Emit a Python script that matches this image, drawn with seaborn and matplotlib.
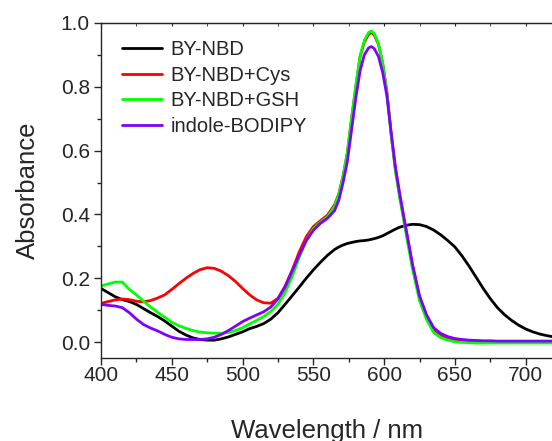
import numpy as np
import pandas as pd
import seaborn as sns
import matplotlib.pyplot as plt
from matplotlib.ticker import MultipleLocator

# wavelength grid (nm)
wavelength = [400, 405, 410, 415, 420, 425, 430, 435, 440, 445, 450, 455, 460, 465,
              470, 475, 480, 485, 490, 495, 500, 505, 510, 515, 520, 525, 530, 535,
              540, 545, 550, 555, 560, 565, 568, 571, 574, 577, 580, 583, 586, 589,
              591, 593, 596, 599, 602, 605, 608, 611, 614, 617, 620, 625, 630, 635,
              640, 645, 650, 655, 660, 665, 670, 675, 680, 685, 690, 695, 700, 705,
              710, 715, 720]

by_nbd = [0.168, 0.155, 0.142, 0.133, 0.127, 0.118, 0.105, 0.092, 0.080, 0.066,
          0.050, 0.034, 0.022, 0.013, 0.008, 0.006, 0.006, 0.010, 0.016, 0.024,
          0.032, 0.042, 0.049, 0.058, 0.072, 0.092, 0.118, 0.145, 0.172, 0.200,
          0.226, 0.250, 0.272, 0.290, 0.298, 0.304, 0.309, 0.312, 0.315, 0.317,
          0.318, 0.320, 0.322, 0.324, 0.328, 0.333, 0.340, 0.347, 0.354, 0.360,
          0.364, 0.367, 0.369, 0.368, 0.362, 0.351, 0.336, 0.318, 0.298, 0.270,
          0.238, 0.203, 0.168, 0.136, 0.108, 0.086, 0.068, 0.053, 0.041, 0.032,
          0.025, 0.020, 0.016]

by_nbd_cys = [0.121, 0.127, 0.132, 0.135, 0.133, 0.128, 0.126, 0.130, 0.138, 0.148,
              0.165, 0.183, 0.200, 0.215, 0.227, 0.233, 0.231, 0.222, 0.208, 0.190,
              0.168, 0.148, 0.132, 0.123, 0.122, 0.137, 0.175, 0.225, 0.282, 0.330,
              0.362, 0.380, 0.398, 0.430, 0.465, 0.520, 0.592, 0.700, 0.800, 0.894,
              0.940, 0.964, 0.970, 0.963, 0.933, 0.873, 0.783, 0.652, 0.540, 0.459,
              0.385, 0.312, 0.239, 0.140, 0.079, 0.036, 0.020, 0.012, 0.007, 0.004,
              0.003, 0.002, 0.002, 0.001, 0.001, 0.001, 0.001, 0.001, 0.001, 0.001,
              0.001, 0.001, 0.001]

by_nbd_gsh = [0.176, 0.182, 0.188, 0.188, 0.165, 0.148, 0.128, 0.110, 0.093, 0.078,
              0.062, 0.051, 0.043, 0.036, 0.031, 0.029, 0.028, 0.027, 0.030, 0.036,
              0.045, 0.057, 0.068, 0.080, 0.096, 0.118, 0.155, 0.205, 0.265, 0.318,
              0.355, 0.375, 0.393, 0.425, 0.463, 0.520, 0.594, 0.702, 0.803, 0.897,
              0.945, 0.970, 0.975, 0.967, 0.935, 0.872, 0.780, 0.648, 0.535, 0.453,
              0.378, 0.303, 0.230, 0.130, 0.070, 0.030, 0.014, 0.006, 0.001, -0.001,
              -0.002, -0.003, -0.003, -0.003, -0.003, -0.003, -0.003, -0.003, -0.003,
              -0.003, -0.003, -0.003, -0.003]

indole_bodipy = [0.118, 0.115, 0.113, 0.108, 0.092, 0.072, 0.055, 0.044, 0.035, 0.024,
                 0.015, 0.010, 0.008, 0.008, 0.008, 0.010, 0.015, 0.024, 0.036, 0.050,
                 0.064, 0.075, 0.085, 0.095, 0.110, 0.135, 0.172, 0.222, 0.272, 0.318,
                 0.350, 0.372, 0.388, 0.412, 0.445, 0.500, 0.565, 0.665, 0.765, 0.850,
                 0.900, 0.922, 0.926, 0.920, 0.895, 0.845, 0.770, 0.655, 0.548, 0.465,
                 0.390, 0.318, 0.245, 0.145, 0.085, 0.045, 0.027, 0.017, 0.011, 0.008,
                 0.006, 0.005, 0.004, 0.004, 0.003, 0.003, 0.003, 0.003, 0.003, 0.003,
                 0.003, 0.003, 0.003]

labels = ["BY-NBD", "BY-NBD+Cys", "BY-NBD+GSH", "indole-BODIPY"]
colors = ["#000000", "#ff0000", "#00ff00", "#8000ff"]

frames = []
for name, vals in zip(labels, [by_nbd, by_nbd_cys, by_nbd_gsh, indole_bodipy]):
    frames.append(pd.DataFrame({"Wavelength": wavelength, "Absorbance": vals, "Sample": name}))
df = pd.concat(frames, ignore_index=True)

sns.set_style("ticks")
plt.rcParams['font.family'] = ['Liberation Sans', 'DejaVu Sans']

fig = plt.figure(figsize=(5.52, 4.41), dpi=100)
ax = fig.add_axes([101 / 552, 1 - 358 / 441, 453 / 552, 335 / 441])

sns.lineplot(data=df, x="Wavelength", y="Absorbance", hue="Sample",
             palette=dict(zip(labels, colors)), linewidth=2.0, ax=ax, sort=False)

ax.set_xlim(400, 720)
ax.set_ylim(-0.05, 1.0)
ax.xaxis.set_major_locator(MultipleLocator(50))
ax.xaxis.set_minor_locator(MultipleLocator(25))
ax.yaxis.set_major_locator(MultipleLocator(0.2))
ax.yaxis.set_minor_locator(MultipleLocator(0.1))
ax.yaxis.set_major_formatter(plt.FormatStrFormatter('%.1f'))
ax.tick_params(which='major', direction='out', length=5, width=1, labelsize=15)
ax.tick_params(which='minor', direction='out', length=3, width=1)
ax.tick_params(axis='x', pad=1)
ax.tick_params(axis='y', pad=3)
for s in ax.spines.values():
    s.set_linewidth(1.0)

top = ax.secondary_xaxis('top')
top.xaxis.set_major_locator(MultipleLocator(50))
top.xaxis.set_minor_locator(MultipleLocator(25))
top.tick_params(which='both', direction='in', length=2, labeltop=False)

ax.set_xlabel("Wavelength / nm", fontsize=18.5, labelpad=24)
ax.set_ylabel("Absorbance", fontsize=18.5, labelpad=15)

leg = ax.legend(loc='upper left', bbox_to_anchor=(0.02, 0.985), frameon=False,
                fontsize=14.5, handlelength=2.0, handletextpad=0.4, labelspacing=0.33,
                borderaxespad=0.2)
for line in leg.get_lines():
    line.set_linewidth(2.0)

plt.savefig("out.png", dpi=100)
